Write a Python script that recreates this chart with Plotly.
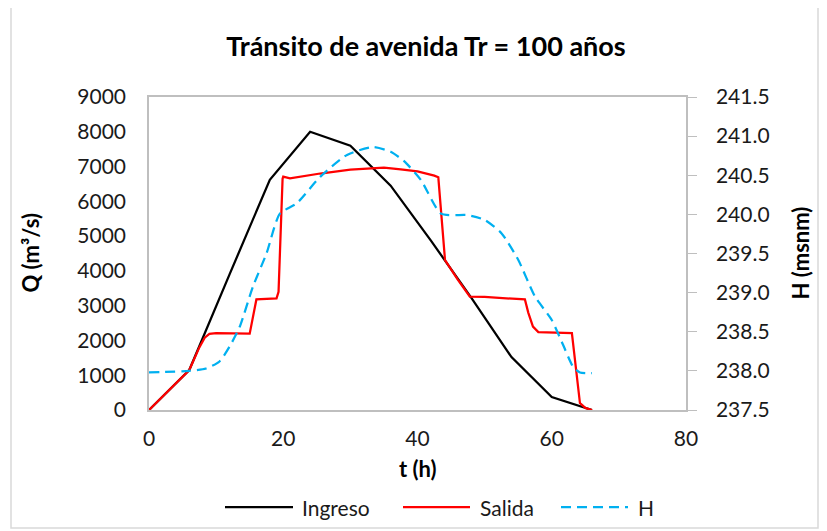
import plotly.graph_objects as go

# Ingreso (hidrograma de entrada)
t_in = [0, 6, 12, 18, 24, 30, 36, 42, 48, 54, 60, 66]
q_in = [0, 1150, 3900, 6620, 8000, 7600, 6450, 4870, 3230, 1520, 370, 0]

# Salida (caudal de salida)
t_out = [0, 6, 7.5, 8.3, 9, 10, 15, 15.5, 16, 19, 19.3, 19.9, 20, 21, 25.5, 30, 33.5, 35, 37.5, 40,
         42.5, 43.1, 44.1, 46, 47.8, 50, 56, 56.5, 57.2, 58, 63, 64.2, 65, 66]
q_out = [0, 1150, 1800, 2080, 2190, 2210, 2195, 2700, 3180, 3210, 3400, 6650, 6710, 6660, 6800, 6910, 6950,
         6970, 6920, 6860, 6740, 6690, 4310, 3750, 3260, 3250, 3180, 2800, 2400, 2240, 2210, 200, 60, 0]

# H (nivel del embalse)
t_h = [0, 6, 8.5, 10.5, 12, 13.5, 15.5, 17.5, 19.5, 22, 25.5, 29.5, 33.3, 36, 38, 40.5, 43.5, 47.5,
       50, 52.5, 55, 57.5, 60, 61.5, 63.2, 64.2, 66]
h = [237.98, 238.0, 238.03, 238.12, 238.31, 238.56, 239.08, 239.5, 240.01, 240.14, 240.48, 240.76,
     240.86, 240.8, 240.68, 240.44, 240.01, 239.99, 239.93, 239.76, 239.42, 238.95, 238.65, 238.37,
     238.05, 237.98, 237.97]

x_ticks = [0, 20, 40, 60, 80]
q_ticks = [0, 1000, 2000, 3000, 4000, 5000, 6000, 7000, 8000, 9000]
h_ticks = [237.5, 238.0, 238.5, 239.0, 239.5, 240.0, 240.5, 241.0, 241.5]

font = "Lato, sans-serif"
axis_grey = "#BFBFBF"
blue = "#00B0F0"

# the page body adds 8px, so the figure is shrunk to fit the window
W, H = 819, 523


def px(x):
    # screenshot x pixel -> paper x
    return (x - 149) / 537


def py(y):
    # screenshot y pixel -> paper y
    return (410 - y) / 313


fig = go.Figure()
fig.add_trace(go.Scatter(x=t_in, y=q_in, mode="lines", name="Ingreso",
                         line=dict(color="black", width=2.25)))
fig.add_trace(go.Scatter(x=t_out, y=q_out, mode="lines", name="Salida",
                         line=dict(color="#FF0000", width=2.25)))
fig.add_trace(go.Scatter(x=t_h, y=h, mode="lines", name="H", yaxis="y2",
                         line=dict(color=blue, width=2.25, dash="10px,6px", shape="spline",
                                   smoothing=0.6)))

fig.update_layout(
    width=W, height=H,
    margin=dict(l=141, r=W - 141 - 537, t=89, b=H - 89 - 313),
    paper_bgcolor="white", plot_bgcolor="white",
    font=dict(family=font, size=21, color="#1a1a1a"),
    title=dict(text="<b>Tránsito de avenida Tr = 100 años</b>", x=418 / W,
               xanchor="center", y=1 - 39 / H, yanchor="middle",
               font=dict(size=27, color="black")),
    xaxis=dict(range=[0, 80], tickvals=x_ticks, showgrid=False, zeroline=False,
               showline=True, linecolor=axis_grey, linewidth=1.5, mirror=True,
               ticks="", ticklabelstandoff=9),
    yaxis=dict(range=[0, 9000], tickvals=q_ticks, showgrid=False, zeroline=False,
               showline=True, linecolor=axis_grey, linewidth=1.5, ticks="",
               ticklabelstandoff=17),
    yaxis2=dict(range=[237.5, 241.5], tickvals=h_ticks, tickformat=".1f", overlaying="y",
                side="right", showgrid=False, zeroline=False, showline=True,
                linecolor=axis_grey, linewidth=1.5, ticks="outside", ticklen=9,
                tickcolor=axis_grey, ticklabelstandoff=15),
    showlegend=False,
)

# axis titles
fig.add_annotation(text="<b>t (h)</b>", xref="paper", yref="paper", x=px(418), y=py(468),
                   showarrow=False, yanchor="middle", font=dict(size=22, color="black"))
fig.add_annotation(text="<b>Q (m³/s)</b>", xref="paper", yref="paper", x=px(30), y=0.5,
                   textangle=-90, showarrow=False, xanchor="center", font=dict(size=22, color="black"))
fig.add_annotation(text="<b>H (msnm)</b>", xref="paper", yref="paper", x=px(800), y=0.5,
                   textangle=-90, showarrow=False, xanchor="center",
                   font=dict(size=22, color="black"))

# legend drawn by hand (long line samples, as in the original)
legend_items = [("Ingreso", "black", "solid", 225, 293, 300),
                ("Salida", "#FF0000", "solid", 403, 470, 478),
                ("H", blue, "10px,6px", 561, 628, 636)]
for name, color, dash, x0, x1, xt in legend_items:
    fig.add_shape(type="line", xref="paper", yref="paper", x0=px(x0), x1=px(x1),
                  y0=py(507), y1=py(507), line=dict(color=color, width=2.25, dash=dash))
    fig.add_annotation(text=name, xref="paper", yref="paper", x=px(xt), y=py(507),
                       xanchor="left", yanchor="middle", showarrow=False,
                       font=dict(size=21, color="#1a1a1a"))

# chart border
fig.add_shape(type="rect", xref="paper", yref="paper", x0=px(11), x1=px(818),
              y0=py(528), y1=py(7), line=dict(color="#D9D9D9", width=1.5), layer="below")

fig.write_html("out.html")
